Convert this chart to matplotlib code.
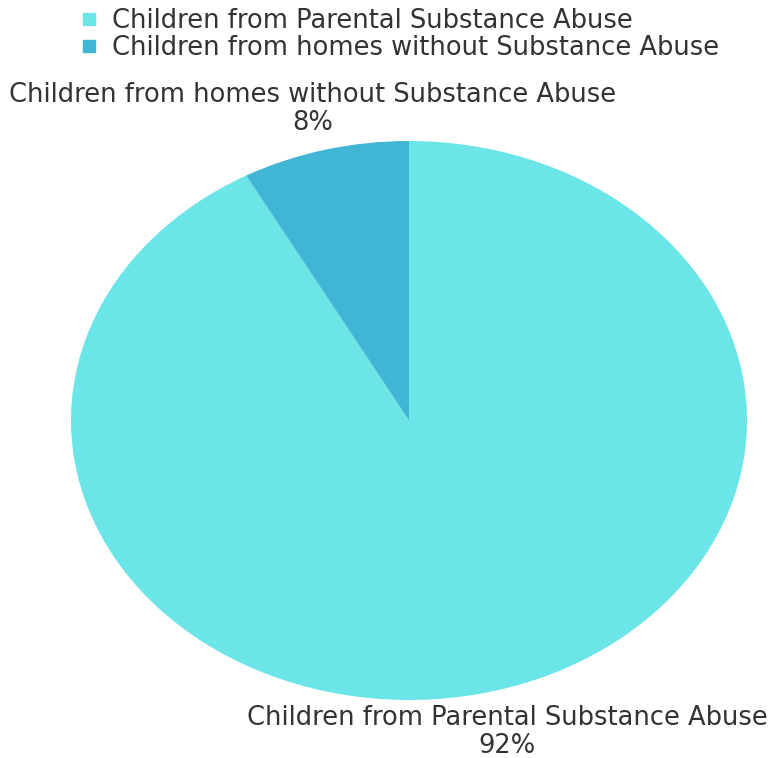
import matplotlib.pyplot as plt
from matplotlib.lines import Line2D

plt.rcParams['font.family'] = ['DejaVu Sans']

categories = ["Children from Parental Substance Abuse",
              "Children from homes without Substance Abuse"]
values = [92, 8]
colors = ["#6ce5e8", "#41b6d4"]
text_color = "#333333"

fig = plt.figure(figsize=(7.7, 7.58), dpi=100)
# axes box sized so the pie becomes the wide ellipse of the original
ax = fig.add_axes([71 / 770, 58 / 758, 676 / 770, 559 / 758])

wedges, _ = ax.pie(values, colors=colors, startangle=90, counterclock=False,
                   radius=1, wedgeprops=dict(linewidth=0))
ax.set_aspect('auto')
ax.set_xlim(-1, 1)
ax.set_ylim(-1, 1)
ax.axis('off')

# slice labels, placed like the original (name over percentage)
label_pos = [(0.29, -1.115), (-0.284, 1.114)]
for cat, val, (x, y) in zip(categories, values, label_pos):
    ax.text(x, y, f"{cat}\n{val}%", ha='center', va='center', fontsize=18.5,
            color=text_color, linespacing=1.1, clip_on=False)

handles = [Line2D([0], [0], marker='s', linestyle='none', markersize=9,
                  markerfacecolor=c, markeredgecolor=c) for c in colors]
fig.legend(handles, categories, loc='upper left', bbox_to_anchor=(0.071, 1.02),
           frameon=False, fontsize=18.5, labelcolor=text_color,
           handletextpad=0.45, labelspacing=0.05, handlelength=0.9)

fig.savefig("out.png", dpi=100, facecolor='white')
